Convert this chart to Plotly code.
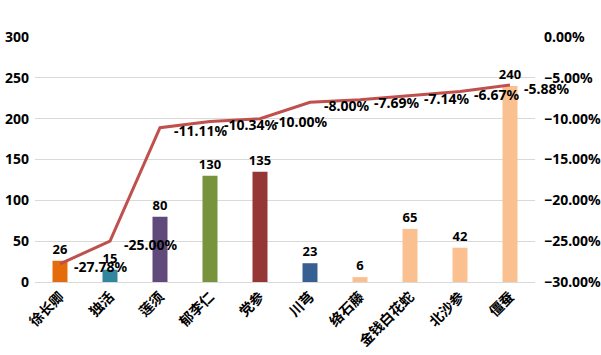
import plotly.graph_objects as go

categories = ["徐长卿", "独活", "莲须", "郁李仁", "党参", "川芎", "络石藤", "金钱白花蛇", "北沙参", "僵蚕"]
counts = [26, 15, 80, 130, 135, 23, 6, 65, 42, 240]
pct = [-0.2778, -0.25, -0.1111, -0.1034, -0.10, -0.08, -0.0769, -0.0714, -0.0667, -0.0588]
bar_colors = ["#E46C0A", "#31859C", "#604A7B", "#77933C", "#953735", "#376092",
              "#FAC090", "#FAC090", "#FAC090", "#FAC090"]

num_font = dict(family="Noto Sans, Liberation Sans, sans-serif", size=13, color="#000000", weight="bold")
axis_font = dict(family="Noto Sans, Liberation Sans, sans-serif", size=14, color="#000000", weight="bold")

fig = go.Figure()
fig.add_trace(go.Bar(
    x=categories, y=counts, marker=dict(color=bar_colors, line=dict(width=0)),
    width=0.3, text=[str(v) for v in counts], textposition="outside",
    constraintext="none",
    textfont=num_font, cliponaxis=False, yaxis="y", showlegend=False,
))
fig.add_trace(go.Scatter(
    x=categories, y=pct, mode="lines", yaxis="y2",
    line=dict(color="#C0504D", width=3),
    cliponaxis=False, showlegend=False,
))

for c, v in zip(categories, pct):
    fig.add_annotation(
        x=c, y=v, xref="x", yref="y2", text=f"{v*100:.2f}%",
        showarrow=False, xanchor="left", yanchor="middle",
        xshift=12, yshift=-3, font=axis_font,
    )

fig.update_layout(
    width=601, height=355,
    margin=dict(l=35, r=66, t=37, b=73),
    paper_bgcolor="white", plot_bgcolor="white",
    bargap=0.7,
    xaxis=dict(
        range=[-0.5, len(categories) - 0.5],
        tickangle=-45, tickfont=dict(family="Noto Sans CJK SC", size=14, color="#000000", weight="bold"),
        showline=True, linecolor="#D9D9D9", linewidth=1, ticks="", showgrid=False,
        automargin=False,
    ),
    yaxis=dict(
        range=[0, 300], dtick=50, showgrid=True, gridcolor="#D9D9D9", gridwidth=1,
        tickfont=axis_font, zeroline=False, ticks="", ticklabelstandoff=5, automargin=False,
    ),
    yaxis2=dict(
        range=[-0.30, 0.0], dtick=0.05, overlaying="y", side="right",
        tickformat=".2%", tickfont=axis_font, showgrid=False, zeroline=False, ticks="",
        ticklabelstandoff=8, automargin=False,
    ),
)

fig.write_html("out.html", config={"displayModeBar": False},
               post_script="document.body.style.margin='0px';")
